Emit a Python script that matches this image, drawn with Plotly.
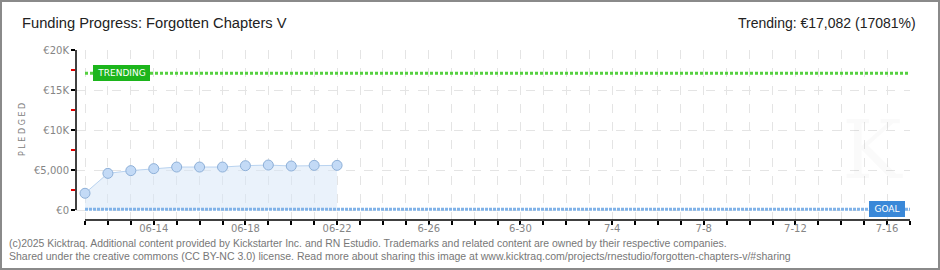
import pandas as pd
import plotly.graph_objects as go

# ---- data ----
dates = ["2025-06-11", "2025-06-12", "2025-06-13", "2025-06-14", "2025-06-15", "2025-06-16",
         "2025-06-17", "2025-06-18", "2025-06-19", "2025-06-20", "2025-06-21", "2025-06-22"]
pledged = [2090, 4580, 4920, 5170, 5370, 5370, 5370, 5540, 5620, 5500, 5580, 5580]
trending_value = 17082
goal_value = 100
campaign_start = "2025-06-11"
campaign_end = "2025-07-17"
y_tickvals = [0, 5000, 10000, 15000, 20000]
y_ticktext = ["€0", "€5,000", "€10K", "€15K", "€20K"]
x_label_dates = ["2025-06-14", "2025-06-18", "2025-06-22", "2025-06-26", "2025-06-30",
                 "2025-07-04", "2025-07-08", "2025-07-12", "2025-07-16"]
x_label_text = ["06-14", "06-18", "06-22", "6-26", "6-30", "7-4", "7-8", "7-12", "7-16"]

title_text = "Funding Progress: Forgotten Chapters V"
trend_text = "Trending: €17,082 (17081%)"
footer1 = ("(c)2025 Kicktraq. Additional content provided by Kickstarter Inc. and RN Estudio. "
           "Trademarks and related content are owned by their respective companies.")
footer2 = ("Shared under the creative commons (CC BY-NC 3.0) license. Read more about sharing this "
           "image at www.kicktraq.com/projects/rnestudio/forgotten-chapters-v/#sharing")

# ---- geometry ----
W, H = 940, 270
L, R, T, B = 76, 910, 50, 220  # plot area in px
pw, ph = R - L, B - T


def px(x):
    return (x - L) / pw


def py(y):
    return (B - y) / ph


start = pd.Timestamp(campaign_start)
end = pd.Timestamp(campaign_end)
ndays = (end - start).days
day_px = (R - 85) / ndays
x_lo = start - pd.Timedelta(days=(85 - L) / day_px)

all_days = pd.date_range(start, end, freq="D")
lab_map = dict(zip(pd.to_datetime(x_label_dates), x_label_text))
tickvals = list(all_days)
ticktext = [lab_map.get(d, "") for d in all_days]

fig = go.Figure()

# pledged area
fig.add_trace(go.Scatter(
    x=pd.to_datetime(dates), y=pledged, mode="lines+markers",
    fill="tozeroy", fillcolor="rgba(214,230,248,0.5)",
    line=dict(color="#b9d3f0", width=1),
    marker=dict(size=10, color="#c3daf6", line=dict(color="#8eb0d8", width=1)),
    showlegend=False, hoverinfo="skip"))

# trending line
fig.add_trace(go.Scatter(
    x=[start, end], y=[trending_value, trending_value], mode="lines",
    line=dict(color="#55d040", width=3, dash="3px,2px"),
    showlegend=False, hoverinfo="skip"))

# goal line
fig.add_trace(go.Scatter(
    x=[start, end], y=[goal_value, goal_value], mode="lines",
    line=dict(color="#80b2e8", width=3, dash="3px,1px"),
    showlegend=False, hoverinfo="skip"))

tick_font = dict(family="DejaVu Sans", size=10, color="#858585")

fig.update_xaxes(
    type="date", range=[x_lo, end], tickvals=tickvals, ticktext=ticktext,
    ticks="outside", ticklen=4, tickcolor="#000", tickwidth=1.5,
    ticklabelstandoff=-5,
    showgrid=True, gridcolor="#e4e4e4", griddash="dash", gridwidth=1,
    showline=False, zeroline=False, tickfont=tick_font, fixedrange=True)

fig.update_yaxes(
    range=[-1250, 20000], tickvals=y_tickvals, ticktext=y_ticktext,
    ticks="outside", ticklen=4, tickcolor="#000", tickwidth=1.5,
    showgrid=True, gridcolor="#e4e4e4", griddash="dash", gridwidth=1,
    showline=False, zeroline=False, tickfont=tick_font,
    minor=dict(tickvals=[2500, 7500, 12500, 17500], ticks="outside", ticklen=4,
               tickcolor="#e00000", tickwidth=1.5, showgrid=False))

shapes = [
    # y axis line
    dict(type="line", xref="paper", yref="y", x0=0, x1=0, y0=0, y1=20000,
         line=dict(color="#000", width=1.5)),
    # x axis line
    dict(type="line", xref="x", yref="paper", x0=start, x1=end, y0=0, y1=0,
         line=dict(color="#000", width=1.5)),
    # outer border
    dict(type="rect", xref="paper", yref="paper", x0=px(1), x1=px(939), y0=py(269), y1=py(1),
         line=dict(color="#8a8a8a", width=2), fillcolor="rgba(0,0,0,0)", layer="above"),
]

sans = "Liberation Sans, Arial, sans-serif"
annotations = [
    dict(text="K", xref="paper", yref="paper", x=px(872), y=py(150), showarrow=False,
         font=dict(family="DejaVu Serif", size=80, color="rgba(0,0,0,0.018)"),
         xanchor="center", yanchor="middle"),
    dict(text=title_text, xref="paper", yref="paper", x=px(20), y=py(23), showarrow=False,
         xanchor="left", yanchor="middle", font=dict(family=sans, size=14.7, color="#222")),
    dict(text=trend_text, xref="paper", yref="paper", x=px(918), y=py(23), showarrow=False,
         xanchor="right", yanchor="middle", font=dict(family=sans, size=14, color="#222")),
    dict(text=footer1, xref="paper", yref="paper", x=px(7), y=py(243), showarrow=False,
         xanchor="left", yanchor="middle", font=dict(family=sans, size=10.45, color="#777")),
    dict(text=footer2, xref="paper", yref="paper", x=px(7), y=py(256), showarrow=False,
         xanchor="left", yanchor="middle", font=dict(family=sans, size=10.5, color="#777")),
    dict(text="P L E D G E D", xref="paper", yref="paper", x=px(22), y=py(130), showarrow=False,
         textangle=-90, xanchor="center", yanchor="middle",
         font=dict(family="DejaVu Sans", size=8, color="#808080")),
    dict(text="TRENDING", xref="paper", yref="paper", x=px(93), y=py(73), showarrow=False,
         xanchor="left", yanchor="middle", bgcolor="#1cb51c", bordercolor="#1cb51c",
         borderpad=2, width=51, height=10,
         font=dict(family="DejaVu Sans", size=9, color="#fff")),
    dict(text="GOAL", xref="paper", yref="paper", x=px(905), y=py(209), showarrow=False,
         xanchor="right", yanchor="middle", bgcolor="#3a88d8", bordercolor="#3a88d8",
         borderpad=2, width=30, height=10,
         font=dict(family="DejaVu Sans", size=9, color="#fff")),
]

fig.update_layout(
    width=W, height=H, margin=dict(l=L, r=W - R, t=T, b=H - B),
    paper_bgcolor="#fff", plot_bgcolor="#fff",
    shapes=shapes, annotations=annotations, showlegend=False)

fig.write_html("out.html")
